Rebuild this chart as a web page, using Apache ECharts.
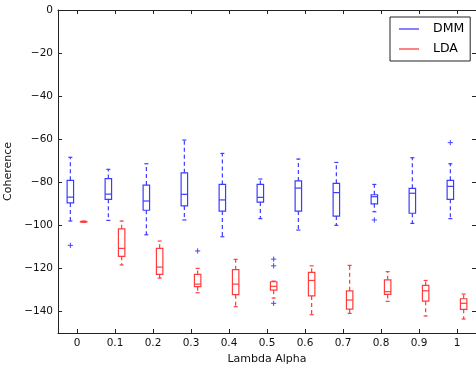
<!DOCTYPE html>
<html>
<head>
<meta charset="utf-8">
<script src="https://cdn.jsdelivr.net/npm/echarts@6/dist/echarts.min.js"></script>
<style>html,body{margin:0;padding:0;background:#fff}#c{width:476px;height:372px}</style>
</head>
<body>
<div id="c"></div>
<script>
var lambdas = ['0','0.1','0.2','0.3','0.4','0.5','0.6','0.7','0.8','0.9','1'];
var yTicks = [-140,-120,-100,-80,-60,-40,-20,0];

var dmmLow  = [-98.0, -97.7, -104.4, -97.5, -105.3, -96.9, -102.2, -100.0, -93.7, -99.1, -96.9];
var dmmQ1   = [-89.6, -87.9, -93.0, -91.0, -93.4, -89.2, -93.4, -95.7, -90.0, -94.4, -87.9];
var dmmMed  = [-86.9, -85.5, -88.7, -85.6, -88.2, -87.0, -82.7, -84.8, -86.7, -85.1, -81.9];
var dmmQ3   = [-79.1, -78.3, -81.3, -75.6, -81.0, -81.0, -79.4, -80.5, -85.8, -82.8, -79.1];
var dmmHigh = [-68.4, -74.0, -71.4, -60.4, -66.6, -78.5, -69.2, -70.8, -81.0, -68.6, -71.4];
var dmmOutliers = [[0,-109.3],[8,-97.5],[10,-61.6]];

var ldaLow  = [-98.6, -118.4, -124.5, -131.3, -137.8, -133.8, -141.5, -140.9, -135.3, -142.1, -143.5];
var ldaQ1   = [-98.4, -114.4, -122.8, -128.5, -132.2, -130.1, -132.8, -138.9, -132.1, -135.2, -139.0];
var ldaMed  = [-98.3, -110.7, -119.4, -127.3, -127.3, -128.3, -125.6, -134.7, -130.8, -130.4, -136.2];
var ldaQ3   = [-98.2, -101.6, -110.7, -122.8, -120.6, -126.2, -121.8, -130.4, -125.3, -127.9, -134.1];
var ldaHigh = [-98.0, -98.0, -107.3, -120.0, -115.8, -125.9, -118.8, -118.6, -121.5, -125.6, -131.9];
var ldaOutliers = [[3,-111.9],[5,-115.7],[5,-118.8],[5,-136.2]];

var BLUE = 'rgb(60,60,255)';
var RED = 'rgb(255,60,60)';
var FLIER = 'rgb(70,70,255)';

function rows(lo, q1, md, q3, hi) {
  return lambdas.map(function (_, i) { return [i, lo[i], q1[i], md[i], q3[i], hi[i]]; });
}

function boxRender(sign, color) {
  return function (params, api) {
    var idx = api.value(0);
    var band = api.size([1, 0])[0];
    var cx = api.coord([idx, 0])[0] + sign * band * 0.175;
    function y(v) { return api.coord([idx, v])[1]; }
    var lo = y(api.value(1)), q1 = y(api.value(2)), md = y(api.value(3)), q3 = y(api.value(4)), hi = y(api.value(5));
    var hw = band * 0.085, cw = 2;
    var st = { stroke: color, lineWidth: 1.2, fill: null };
    var dash = { stroke: color, lineWidth: 1.2, lineDash: [4, 3], fill: null };
    return { type: 'group', children: [
      { type: 'line', shape: { x1: cx, y1: q3, x2: cx, y2: hi }, style: dash },
      { type: 'line', shape: { x1: cx, y1: q1, x2: cx, y2: lo }, style: dash },
      { type: 'line', shape: { x1: cx - cw, y1: hi, x2: cx + cw, y2: hi }, style: st },
      { type: 'line', shape: { x1: cx - cw, y1: lo, x2: cx + cw, y2: lo }, style: st },
      { type: 'rect', shape: { x: cx - hw, y: q3, width: 2 * hw, height: Math.max(q1 - q3, 0.5) }, style: st },
      { type: 'line', shape: { x1: cx - hw, y1: md, x2: cx + hw, y2: md }, style: st }
    ]};
  };
}

function flierRender(sign, color) {
  return function (params, api) {
    var idx = api.value(0);
    var band = api.size([1, 0])[0];
    var p = api.coord([idx, api.value(1)]);
    var cx = p[0] + sign * band * 0.175, cy = p[1], r = 2.6;
    var st = { stroke: color, lineWidth: 1 };
    return { type: 'group', children: [
      { type: 'line', shape: { x1: cx - r, y1: cy, x2: cx + r, y2: cy }, style: st },
      { type: 'line', shape: { x1: cx, y1: cy - r, x2: cx, y2: cy + r }, style: st }
    ]};
  };
}

var FONT = 'DejaVu Sans';
var minus = function (v) { return String(v).replace('-', '\u2212'); };

var chart = echarts.init(document.getElementById('c'), null, { renderer: 'canvas' });
chart.setOption({
  animation: false,
  backgroundColor: '#fff',
  grid: { left: 58, right: 0, top: 10, bottom: 39, show: false, containLabel: false, outerBoundsMode: 'none' },
  legend: {
    orient: 'vertical', left: 390, top: 17,
    padding: [5, 6, 5, 9], itemGap: 6, itemWidth: 20, itemHeight: 1.5,
    borderColor: '#222', borderWidth: 1, backgroundColor: '#fff',
    textStyle: { fontFamily: FONT, fontSize: 12.5, color: '#000', lineHeight: 14, padding: [0, 0, 0, 9] },
    data: [
      { name: 'DMM', icon: 'rect', itemStyle: { color: 'rgb(90,90,255)' } },
      { name: 'LDA', icon: 'rect', itemStyle: { color: 'rgb(255,90,90)' } }
    ]
  },
  xAxis: [{
    type: 'category', data: lambdas, boundaryGap: true, position: 'bottom',
    name: 'Lambda Alpha', nameLocation: 'middle', nameGap: 20.5,
    nameTextStyle: { fontFamily: FONT, fontSize: 11, color: '#111' },
    axisLine: { show: true, onZero: false, lineStyle: { color: '#222', width: 1 } },
    axisTick: { show: true, inside: true, length: 4, alignWithLabel: true, lineStyle: { color: '#222' } },
    axisLabel: { fontFamily: FONT, fontSize: 10.5, color: '#111', margin: 5 },
    splitLine: { show: false }
  }, {
    type: 'category', data: lambdas, boundaryGap: true, position: 'top',
    axisLine: { show: true, onZero: false, lineStyle: { color: '#222', width: 1 } },
    axisTick: { show: true, inside: true, length: 4, alignWithLabel: true, lineStyle: { color: '#222' } },
    axisLabel: { show: false }, splitLine: { show: false }
  }],
  yAxis: [{
    type: 'value', min: -150, max: 0, position: 'left',
    name: 'Coherence', nameLocation: 'middle', nameGap: 39,
    nameTextStyle: { fontFamily: FONT, fontSize: 11, color: '#111' },
    axisLine: { show: true, onZero: false, lineStyle: { color: '#222', width: 1 } },
    axisTick: { show: true, inside: true, length: 4, customValues: yTicks, lineStyle: { color: '#222' } },
    axisLabel: { fontFamily: FONT, fontSize: 10.5, color: '#111', margin: 5, customValues: yTicks, formatter: minus },
    splitLine: { show: false }
  }, {
    type: 'value', min: -150, max: 0, position: 'right',
    axisLine: { show: true, onZero: false, lineStyle: { color: '#222', width: 1 } },
    axisTick: { show: true, inside: true, length: 4, customValues: yTicks, lineStyle: { color: '#222' } },
    axisLabel: { show: false }, splitLine: { show: false }
  }],
  series: [
    { name: 'DMM', type: 'custom', xAxisIndex: 0, yAxisIndex: 0, itemStyle: { color: BLUE },
      renderItem: boxRender(-1, BLUE), encode: { x: 0, y: [1, 2, 3, 4, 5] },
      data: rows(dmmLow, dmmQ1, dmmMed, dmmQ3, dmmHigh) },
    { name: 'LDA', type: 'custom', xAxisIndex: 0, yAxisIndex: 0, itemStyle: { color: RED },
      renderItem: boxRender(1, RED), encode: { x: 0, y: [1, 2, 3, 4, 5] },
      data: rows(ldaLow, ldaQ1, ldaMed, ldaQ3, ldaHigh) },
    { name: 'DMM outliers', type: 'custom', itemStyle: { color: FLIER },
      renderItem: flierRender(-1, FLIER), encode: { x: 0, y: 1 }, data: dmmOutliers },
    { name: 'LDA outliers', type: 'custom', itemStyle: { color: FLIER },
      renderItem: flierRender(1, FLIER), encode: { x: 0, y: 1 }, data: ldaOutliers }
  ]
});
</script>
</body>
</html>
